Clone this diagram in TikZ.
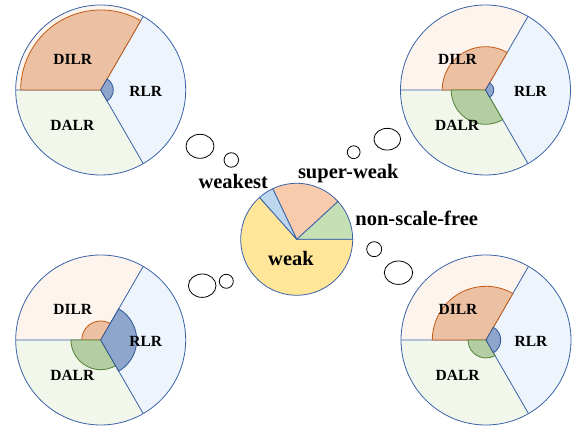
\documentclass[tikz,border=0pt]{standalone}
\usepackage{fontspec}
\setmainfont{Liberation Serif}
\usetikzlibrary{shapes.geometric}
\definecolor{sepblue}{HTML}{3A62A8}
\definecolor{dilrpale}{HTML}{FDF4EE}
\definecolor{rlrpale}{HTML}{EDF4FB}
\definecolor{dalrpale}{HTML}{F1F7EB}
\definecolor{dilrfill}{HTML}{EBC0A3}
\definecolor{dilrline}{HTML}{C55A11}
\definecolor{dalrfill}{HTML}{B5CDA3}
\definecolor{dalrline}{HTML}{548235}
\definecolor{rlrfill}{HTML}{8EA6CC}
\definecolor{rlrline}{HTML}{2F5597}
\definecolor{weakc}{HTML}{FFE699}
\definecolor{superc}{HTML}{F8CBAD}
\definecolor{nsfc}{HTML}{C5E0B4}
\definecolor{weakestc}{HTML}{BDD7EE}
\tikzset{
  sepline/.style={draw=sepblue, line width=0.8pt},
  dilrin/.style={fill=dilrfill, draw=dilrline, line width=0.8pt},
  dalrin/.style={fill=dalrfill, draw=dalrline, line width=0.8pt},
  rlrin/.style={fill=rlrfill, draw=rlrline, line width=0.8pt},
  lbl/.style={font=\fontsize{15.5}{18}\selectfont\bfseries, inner sep=0pt},
  biglbl/.style={font=\fontsize{20.5}{24}\selectfont\bfseries, inner sep=0pt},
  slice/.style={draw=sepblue, line width=0.8pt, line join=round},
  bubble/.style={draw=black, line width=0.8pt, ellipse, inner sep=0pt, fill=white},
}
% #1 name, #2 center, #3 r DILR, #4 r DALR (0 = none), #5 r RLR
\newcommand{\lrpie}[5]{%
\begin{scope}[shift={#2}]
  \coordinate (#1) at (0,0);
  \fill[dilrpale] (0,0) -- (60:85) arc (60:180:85) -- cycle;
  \fill[rlrpale] (0,0) -- (-60:85) arc (-60:60:85) -- cycle;
  \fill[dalrpale] (0,0) -- (180:85) arc (180:300:85) -- cycle;
  \draw[sepline] (0,0) -- (60:85) (0,0) -- (180:85) (0,0) -- (-60:85);
  \draw[dilrin] (0,0) -- (60:#3) arc (60:180:#3) -- cycle;
  \ifdim #4pt>0pt
    \draw[dalrin] (0,0) -- (180:#4) arc (180:300:#4) -- cycle;
  \fi
  \draw[rlrin] (0,0) -- (-60:#5) arc (-60:60:#5) -- cycle;
  \draw[sepline] (0,0) circle (85);
  \node[lbl] (#1-dilr) at (-28,31) {DILR};
  \node[lbl] (#1-rlr) at (45,-1.7) {RLR};
  \node[lbl] (#1-dalr) at (-28.4,-35) {DALR};
\end{scope}}
\begin{document}
\begin{tikzpicture}[x=1pt,y=1pt]
\useasboundingbox (0,0) rectangle (579,433);
% four pies
\lrpie{tl}{(100.7,343)}{80}{0}{12.7}
\lrpie{tr}{(485.5,343)}{43.3}{34.3}{8.3}
\lrpie{bl}{(100.7,93)}{19}{29.7}{36}
\lrpie{br}{(486,93)}{53.7}{18}{14.7}
% central pie
\begin{scope}[shift={(296.7,193.7)}]
  \coordinate (c) at (0,0);
  \draw[slice, fill=weakc] (0,0) -- (131.6:56) arc (131.6:360:56) -- cycle;
  \draw[slice, fill=nsfc] (0,0) -- (0:56) arc (0:42.6:56) -- cycle;
  \draw[slice, fill=superc] (0,0) -- (42.6:56) arc (42.6:115.3:56) -- cycle;
  \draw[slice, fill=weakestc] (0,0) -- (115.3:56) arc (115.3:131.6:56) -- cycle;
\end{scope}
\node[biglbl] (weak) at (291,174.7) {weak};
\node[biglbl] (weakest) at (233.3,252) {weakest};
\node[biglbl] (superweak) at (348.3,259.7) {super-weak};
\node[biglbl] (nsf) at (416.7,214.7) {non-scale-free};
% thought bubbles
\node[bubble, minimum width=28pt, minimum height=24pt] (b1) at (200,286.7) {};
\node[bubble, minimum width=14.5pt, minimum height=14.5pt] (b2) at (231.3,273) {};
\node[bubble, minimum width=12.8pt, minimum height=12.8pt] (b3) at (353.7,280.8) {};
\node[bubble, minimum width=26.7pt, minimum height=21.7pt] (b4) at (387.3,293.8) {};
\node[bubble, minimum width=15pt, minimum height=15pt] (b5) at (374.2,183.8) {};
\node[bubble, minimum width=28.4pt, minimum height=23.4pt] (b6) at (398.5,160.3) {};
\node[bubble, minimum width=14pt, minimum height=14pt] (b7) at (226.3,151.7) {};
\node[bubble, minimum width=27.6pt, minimum height=23.4pt] (b8) at (202.2,147.3) {};
\end{tikzpicture}
\end{document}
